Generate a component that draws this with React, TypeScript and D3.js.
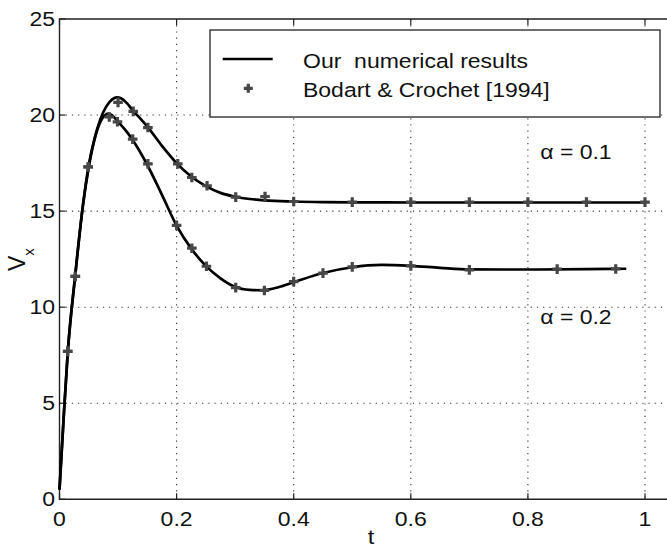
import React from "react";
import * as d3 from "d3";

const W = 667;
const H = 549;

// Numerical results (solid lines)
const lineT01 = [0, 0.007, 0.014, 0.027, 0.04, 0.05, 0.06, 0.07, 0.08, 0.09, 0.098, 0.105, 0.115, 0.125, 0.14, 0.15, 0.175, 0.2, 0.225, 0.25, 0.275, 0.3, 0.325, 0.35, 0.4, 0.45, 0.5, 0.6, 0.7, 0.8, 0.9, 1.0];
const lineV01 = [0.5, 4.2, 7.6, 11.7, 15.3, 17.4, 18.8, 19.8, 20.45, 20.82, 20.92, 20.87, 20.62, 20.25, 19.75, 19.4, 18.4, 17.5, 16.8, 16.3, 15.95, 15.75, 15.63, 15.56, 15.5, 15.47, 15.46, 15.45, 15.45, 15.45, 15.45, 15.45];

const lineT02 = [0, 0.007, 0.014, 0.027, 0.04, 0.05, 0.06, 0.07, 0.077, 0.083, 0.09, 0.1, 0.113, 0.125, 0.15, 0.175, 0.2, 0.225, 0.25, 0.275, 0.3, 0.325, 0.345, 0.375, 0.4, 0.45, 0.5, 0.55, 0.6, 0.65, 0.7, 0.8, 0.9, 0.968];
const lineV02 = [0.5, 4.2, 7.6, 11.7, 15.3, 17.3, 18.75, 19.65, 19.97, 20.07, 19.98, 19.65, 19.2, 18.7, 17.4, 15.85, 14.25, 13.05, 12.15, 11.5, 11.05, 10.9, 10.88, 11.05, 11.3, 11.78, 12.08, 12.2, 12.15, 12.05, 11.97, 11.96, 11.98, 12.0];

// Bodart & Crochet [1994] (markers)
const markT01 = [0.014, 0.027, 0.049, 0.1, 0.126, 0.151, 0.202, 0.226, 0.252, 0.301, 0.351, 0.4, 0.5, 0.6, 0.7, 0.8, 0.9, 1.0];
const markV01 = [7.7, 11.6, 17.3, 20.66, 20.19, 19.35, 17.46, 16.75, 16.32, 15.73, 15.76, 15.5, 15.47, 15.47, 15.47, 15.47, 15.47, 15.47];

const markT02 = [0.014, 0.027, 0.049, 0.085, 0.099, 0.125, 0.151, 0.2, 0.226, 0.251, 0.301, 0.35, 0.4, 0.45, 0.5, 0.6, 0.7, 0.85, 0.95];
const markV02 = [7.7, 11.6, 17.3, 19.9, 19.65, 18.75, 17.46, 14.26, 13.07, 12.13, 11.02, 10.87, 11.33, 11.77, 12.1, 12.15, 11.94, 11.98, 11.99];

const xTicks = [0, 0.2, 0.4, 0.6, 0.8, 1];
const xTickLabels = ["0", "0.2", "0.4", "0.6", "0.8", "1"];
const yTicks = [0, 5, 10, 15, 20, 25];
const yTickLabels = ["0", "5", "10", "15", "20", "25"];

const legendLabels = ["Our  numerical results", "Bodart & Crochet [1994]"];
const curveLabels = ["α = 0.1", "α = 0.2"];
const curveLabelPos = [
  [0.821, 18.1],
  [0.821, 9.5],
];

const FONT = "'Liberation Sans', Arial, sans-serif";
const SX = 1.18;

function Txt(props: {
  x: number;
  y: number;
  size: number;
  anchor?: string;
  children: React.ReactNode;
}) {
  return (
    <text
      transform={`translate(${props.x},${props.y}) scale(${SX},1)`}
      fontSize={props.size}
      textAnchor={props.anchor || "start"}
      fill="#111"
      style={{ whiteSpace: "pre" }}
    >
      {props.children}
    </text>
  );
}

export default function App() {
  const x = d3.scaleLinear().domain([0, 1]).range([59.5, 645]);
  const y = d3.scaleLinear().domain([0, 25]).range([499.3, 19]);
  const left = x(0);
  const right = W;
  const top = y(25);
  const bottom = y(0);

  const line = d3
    .line<[number, number]>()
    .x((d) => x(d[0]))
    .y((d) => y(d[1]))
    .curve(d3.curveMonotoneX);

  const l1 = line(lineT01.map((t, i) => [t, lineV01[i]]) as [number, number][]) || "";
  const l2 = line(lineT02.map((t, i) => [t, lineV02[i]]) as [number, number][]) || "";

  const markers = [
    ...markT01.map((t, i) => [t, markV01[i]]),
    ...markT02.map((t, i) => [t, markV02[i]]),
  ];

  const plus = (cx: number, cy: number, s: number, key: string) => (
    <path
      key={key}
      d={`M${cx - s},${cy}H${cx + s}M${cx},${cy - s}V${cy + s}`}
      stroke="#474747"
      strokeWidth={3.2}
      fill="none"
    />
  );

  const tickLen = 6;

  return (
    <svg
      width={W}
      height={H}
      style={{ position: "absolute", left: 0, top: 0, background: "#fff" }}
      fontFamily={FONT}
    >
      <rect x={0} y={0} width={W} height={H} fill="#fff" />
      {/* grid */}
      <g stroke="#333" strokeWidth={1.1} strokeDasharray="1.2,5">
        {xTicks.slice(1).map((t) => (
          <line key={"gx" + t} x1={x(t)} x2={x(t)} y1={top} y2={bottom} />
        ))}
        {yTicks.slice(1, -1).map((v) => (
          <line key={"gy" + v} x1={left} x2={right} y1={y(v)} y2={y(v)} />
        ))}
      </g>
      {/* ticks */}
      <g stroke="#222" strokeWidth={1.2}>
        {xTicks.map((t) => (
          <g key={"tx" + t}>
            <line x1={x(t)} x2={x(t)} y1={bottom} y2={bottom - tickLen} />
            <line x1={x(t)} x2={x(t)} y1={top} y2={top + tickLen} />
          </g>
        ))}
        {yTicks.map((v) => (
          <line key={"ty" + v} x1={left} x2={left + tickLen} y1={y(v)} y2={y(v)} />
        ))}
      </g>
      {/* axes box */}
      <path
        d={`M${right},${top}H${left}V${bottom}H${right}`}
        stroke="#222"
        strokeWidth={1.4}
        fill="none"
      />
      {/* tick labels */}
      {xTicks.map((t, i) => (
        <Txt key={"lx" + t} x={x(t)} y={526} size={19.5} anchor="middle">
          {xTickLabels[i]}
        </Txt>
      ))}
      {yTicks.map((v, i) => (
        <Txt key={"ly" + v} x={55} y={y(v) + 7} size={19.5} anchor="end">
          {yTickLabels[i]}
        </Txt>
      ))}
      {/* axis labels */}
      <Txt x={371} y={544} size={20} anchor="middle">
        t
      </Txt>
      <text transform="translate(25,271) rotate(-90)" fontSize={23} fill="#111">
        V
        <tspan fontSize={15} dy={9}>
          x
        </tspan>
      </text>
      {/* curves */}
      <path d={l1} stroke="#000" strokeWidth={2.7} fill="none" />
      <path d={l2} stroke="#000" strokeWidth={2.7} fill="none" />
      {markers.map((d, i) => plus(x(d[0]), y(d[1]), 4.8, "m" + i))}
      {/* curve labels */}
      {curveLabels.map((s, i) => (
        <Txt key={s} x={x(curveLabelPos[i][0])} y={y(curveLabelPos[i][1]) + 7} size={19.5}>
          {s}
        </Txt>
      ))}
      {/* legend */}
      <rect x={210} y={30} width={450} height={87} fill="#fff" stroke="#222" strokeWidth={1.3} />
      <line x1={222.7} x2={272.7} y1={59} y2={59} stroke="#000" strokeWidth={2.7} />
      {plus(248.3, 88.3, 4.5, "legm")}
      <Txt x={303} y={67.5} size={19.5}>
        {legendLabels[0]}
      </Txt>
      <Txt x={303} y={96.5} size={19.5}>
        {legendLabels[1]}
      </Txt>
    </svg>
  );
}
